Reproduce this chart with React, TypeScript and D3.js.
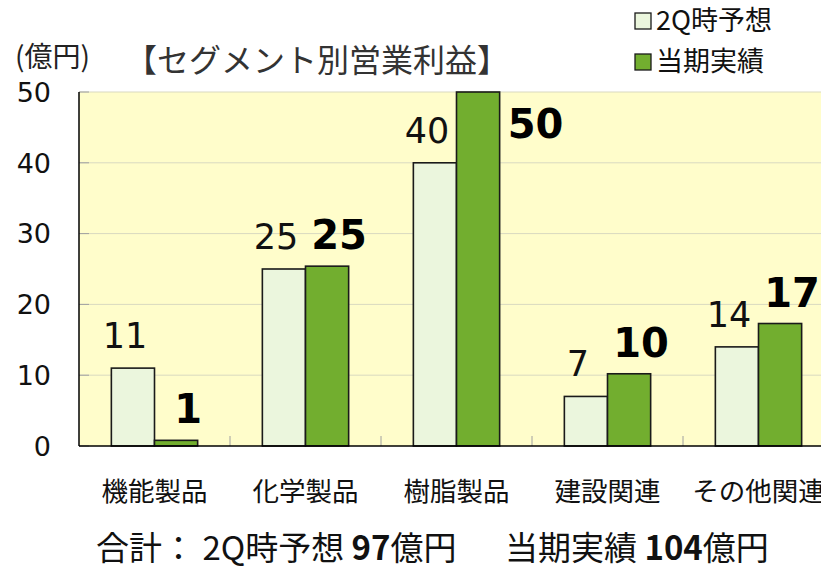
import React from "react";
import * as d3 from "d3";

const categories = ["機能製品", "化学製品", "樹脂製品", "建設関連", "その他関連"];
const seriesNames = ["2Q時予想", "当期実績"];
const forecast = [11, 25, 40, 7, 14];
const actual = [0.8, 25.4, 50, 10.2, 17.3];
const yTicks = [0, 10, 20, 30, 40, 50];

const W = 821, H = 568;
const plot = { left: 79, right: 834, top: 92, bottom: 446 };
const JP = "'Noto Sans CJK JP', 'Noto Sans', sans-serif";
const NUM = "'DejaVu Sans', Verdana, sans-serif";
const colors = ["#EBF6DD", "#72AE2F"];

export default function App() {
  const x0 = d3.scaleBand<string>().domain(categories).range([plot.left, plot.right]).paddingInner(0).paddingOuter(0);
  const x1 = d3.scaleBand<string>().domain(seriesNames).range([0, x0.bandwidth()]).paddingInner(0).paddingOuter(0.75);
  const y = d3.scaleLinear().domain([0, 50]).range([plot.bottom, plot.top]);
  const data = [forecast, actual];

  return (
    <svg width={W} height={H} style={{ position: "absolute", left: 0, top: 0, background: "#fff" }}>
      <rect x={plot.left} y={plot.top} width={plot.right - plot.left} height={plot.bottom - plot.top} fill="#FFFDCB" />
      {yTicks.map((t) => (
        <g key={t}>
          {t > 0 && <line x1={plot.left} x2={plot.right} y1={y(t)} y2={y(t)} stroke="#D9D9C0" strokeWidth={1} />}
          <line x1={plot.left} x2={plot.left + 10} y1={y(t)} y2={y(t)} stroke="#A0A0A0" strokeWidth={1} />
          <text x={51} y={y(t)} dy="0.36em" textAnchor="end" fontFamily={NUM} fontSize={27} fill="#111">{t}</text>
        </g>
      ))}
      {categories.slice(1).map((c) => (
        <line key={c} x1={x0(c)!} x2={x0(c)!} y1={plot.bottom} y2={plot.bottom - 10} stroke="#A0A0A0" strokeWidth={1} />
      ))}
      {categories.map((c, i) => (
        <g key={c}>
          {seriesNames.map((s, j) => {
            const v = data[j][i];
            const bx = x0(c)! + x1(s)!;
            const bw = x1.bandwidth();
            const top = y(v);
            const cx = bx + bw / 2;
            const label = String(Math.round(v));
            if (j === 0) {
              return (
                <g key={s}>
                  <rect x={bx} y={top} width={bw} height={plot.bottom - top} fill={colors[0]} stroke="#1a1a1a" strokeWidth={1.6} />
                  <text x={cx - 8} y={top - 20} textAnchor="middle" fontFamily={NUM} fontSize={35} fill="#111">{label}</text>
                </g>
              );
            }
            const atTop = top - 50 < plot.top;
            return (
              <g key={s}>
                <rect x={bx} y={top} width={bw} height={plot.bottom - top} fill={colors[1]} stroke="#1a1a1a" strokeWidth={1.6} />
                {atTop ? (
                  <text x={bx + bw + 8} y={top + 46} textAnchor="start" fontFamily={NUM} fontWeight="bold" fontSize={40} fill="#000">{label}</text>
                ) : (
                  <text x={cx + 12} y={top - 17} textAnchor="middle" fontFamily={NUM} fontWeight="bold" fontSize={40} fill="#000">{label}</text>
                )}
              </g>
            );
          })}
          <text x={x0(c)! + x0.bandwidth() / 2} y={501} textAnchor="middle" fontFamily={JP} fontSize={26.5} fill="#111">{c}</text>
        </g>
      ))}
      <line x1={plot.left} x2={plot.left} y1={plot.top} y2={plot.bottom} stroke="#000" strokeWidth={1.5} />
      <line x1={plot.left} x2={plot.right} y1={plot.bottom} y2={plot.bottom} stroke="#000" strokeWidth={1.5} />

      <text x={15} y={67} fontFamily={JP} fontSize={28} fill="#222">(億円)</text>
      <text x={125} y={72} fontFamily={JP} fontSize={32} fill="#333">【セグメント別営業利益】</text>

      {seriesNames.map((s, j) => (
        <g key={s} transform={`translate(635, ${j === 0 ? 13 : 54})`}>
          <rect x={0} y={0} width={16} height={16} fill={colors[j]} stroke="#1a1a1a" strokeWidth={1.3} />
          <text x={21} y={17} fontFamily={JP} fontSize={27} fill="#111">{s}</text>
        </g>
      ))}

      <text x={96} y={560} fontFamily={JP} fontSize={33} fill="#111">
        <tspan>合計： 2Q時予想 </tspan>
        <tspan fontWeight="bold">97</tspan>
        <tspan>億円</tspan>
        <tspan x={505}>当期実績 </tspan>
        <tspan fontWeight="bold">104</tspan>
        <tspan>億円</tspan>
      </text>
    </svg>
  );
}
